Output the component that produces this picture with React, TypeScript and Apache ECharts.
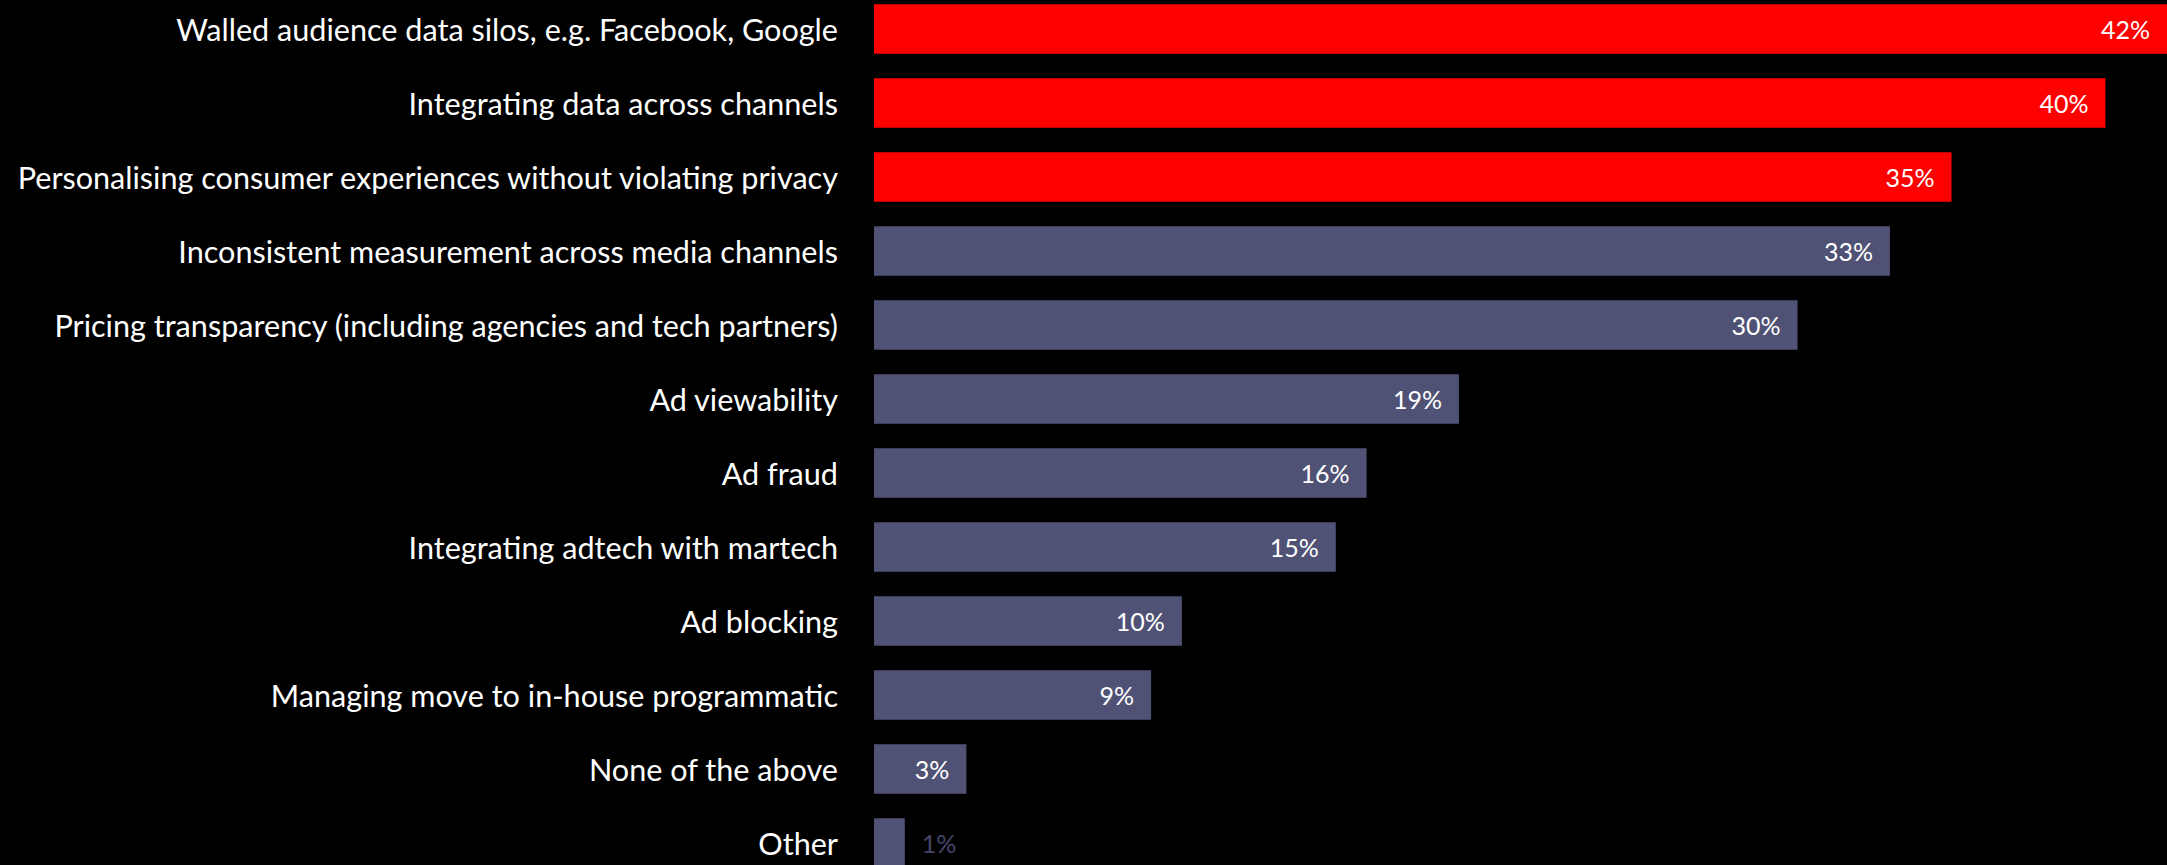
import React, { useEffect, useRef } from "react";
import * as echarts from "echarts";

const categories: string[] = [
  "Walled audience data silos, e.g. Facebook, Google",
  "Integrating data across channels",
  "Personalising consumer experiences without violating privacy",
  "Inconsistent measurement across media channels",
  "Pricing transparency (including agencies and tech partners)",
  "Ad viewability",
  "Ad fraud",
  "Integrating adtech with martech",
  "Ad blocking",
  "Managing move to in-house programmatic",
  "None of the above",
  "Other",
];

const values: number[] = [42, 40, 35, 33, 30, 19, 16, 15, 10, 9, 3, 1];

const highlighted: boolean[] = [true, true, true, false, false, false, false, false, false, false, false, false];

const RED = "#ff0000";
const SLATE = "#505275";
const FONT = "Lato, 'Open Sans', sans-serif";

export default function App() {
  const ref = useRef<HTMLDivElement>(null);

  useEffect(() => {
    if (!ref.current) return;
    const chart = echarts.init(ref.current, null, { renderer: "svg" });
    const data = values.map((v, i) => {
      const small = v < 2;
      return {
        value: v,
        itemStyle: { color: highlighted[i] ? RED : SLATE },
        label: small
          ? { position: "right", distance: 17, color: "#44466a" }
          : { position: "insideRight", distance: 17, color: "#ffffff" },
      };
    });
    chart.setOption({
      animation: false,
      backgroundColor: "#000000",
      grid: { left: 874, right: 0, top: 0, bottom: 0, containLabel: false },
      xAxis: {
        type: "value",
        min: 0,
        max: 42,
        show: false,
        splitLine: { show: false },
      },
      yAxis: {
        type: "category",
        data: categories,
        inverse: true,
        axisLine: { show: false },
        axisTick: { show: false },
        axisLabel: {
          color: "#ffffff",
          fontSize: 30.6,
          fontFamily: FONT,
          margin: 36,
          padding: [0, 0, 3, 0],
        },
      },
      series: [
        {
          type: "bar",
          data,
          barWidth: 49.5,
          label: {
            show: true,
            formatter: "{c}%",
            fontSize: 25,
            fontFamily: FONT,
          },
        },
      ],
    });
    return () => chart.dispose();
  }, []);

  return (
    <div
      ref={ref}
      style={{
        position: "fixed",
        left: 0,
        top: -8.25,
        width: 2167,
        height: 888,
        background: "#000",
      }}
    />
  );
}
